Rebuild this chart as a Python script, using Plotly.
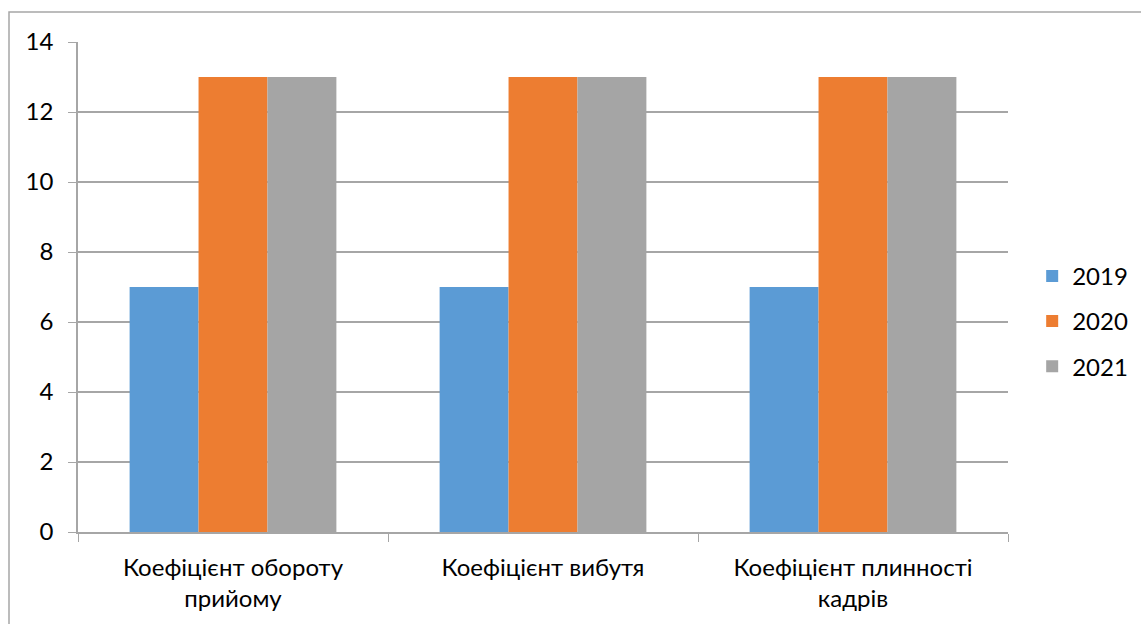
import plotly.graph_objects as go

categories = ["Коефіцієнт обороту<br>прийому", "Коефіцієнт вибутя", "Коефіцієнт плинності<br>кадрів"]
years = ["2019", "2020", "2021"]
values_2019 = [7, 7, 7]
values_2020 = [13, 13, 13]
values_2021 = [13, 13, 13]
colors = ["#5B9BD5", "#ED7D31", "#A5A5A5"]

FONT = "Lato"
FS = 24
LINE = "#A6A6A6"

fig = go.Figure()
for name, vals, col in zip(years, [values_2019, values_2020, values_2021], colors):
    fig.add_trace(go.Bar(name=name, x=categories, y=vals, legendgroup=name,
                         marker=dict(color=col, line=dict(width=0))))

fig.update_layout(
    width=1141, height=624,
    margin=dict(l=78, r=133, t=42, b=92, autoexpand=False),
    paper_bgcolor="white", plot_bgcolor="white",
    barmode="group", bargap=0.333, bargroupgap=0,
    font=dict(family=FONT, size=FS, color="#000000"),
    showlegend=True,
    legend=dict(x=1.026, y=0.43, xanchor="left", yanchor="middle",
                font=dict(family=FONT, size=FS, color="#000000"),
                itemwidth=30, tracegroupgap=11, bgcolor="rgba(0,0,0,0)"),
    xaxis=dict(showline=True, linecolor=LINE, linewidth=1.5, ticks="outside", ticklen=8,
               tickcolor=LINE, tickson="boundaries", showgrid=False, ticklabelstandoff=13,
               tickfont=dict(family=FONT, size=FS, color="#000000")),
    yaxis=dict(range=[0, 14], dtick=2, showgrid=True, gridcolor=LINE, gridwidth=1.5,
               showline=True, linecolor=LINE, linewidth=1.5, ticks="outside", ticklen=8,
               tickcolor=LINE, zeroline=False, ticklabelstandoff=10,
               tickfont=dict(family=FONT, size=FS, color="#000000")),
    shapes=[dict(type="rect", xref="paper", yref="paper",
                 x0=(9 - 78) / 930, x1=1.3, y0=-0.4, y1=(532 - 12) / 490,
                 line=dict(color="#A6A6A6", width=1.5), fillcolor="rgba(0,0,0,0)", layer="below")],
)

fig.write_html("out.html")
